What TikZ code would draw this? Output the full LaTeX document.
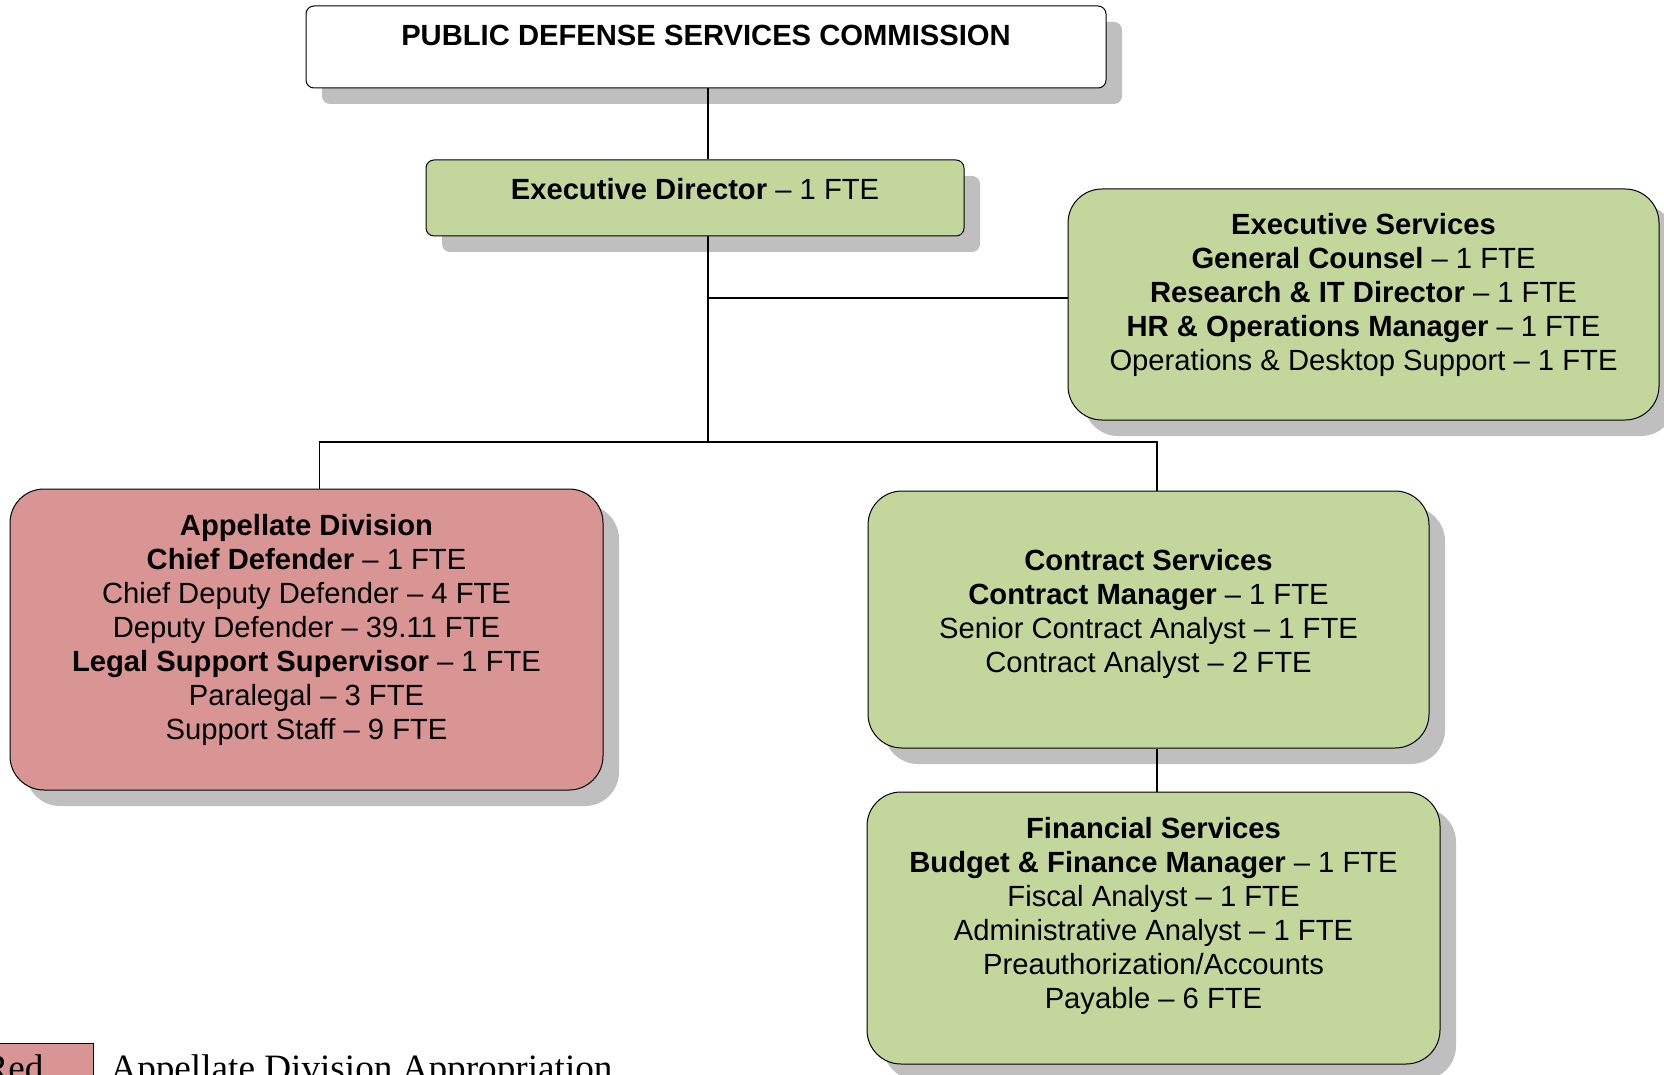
\documentclass[tikz,border=0pt]{standalone}
\usepackage{fontspec}
\setmainfont{Liberation Sans}
\newfontfamily\legendfont{Liberation Serif}
\usetikzlibrary{shadows}

\definecolor{boxgreen}{HTML}{C3D69B}
\definecolor{boxred}{HTML}{D99594}
\definecolor{shadowgray}{HTML}{BFBFBF}

\begin{document}
\begin{tikzpicture}[
    x=0.5pt,
    y=-0.5pt,
    box/.style={
        rectangle,
        draw,
        line width=0.5pt,
        align=center,
        inner sep=0pt,
        font=\fontsize{14.6}{17}\selectfont,
        drop shadow={shadow xshift=8pt, shadow yshift=-8pt, fill=shadowgray, opacity=1}
    },
    headbox/.style={
        box,
        fill=white,
        rounded corners=4pt
    },
    smallbox/.style={
        box,
        fill=boxgreen,
        rounded corners=4pt
    },
    unitbox/.style={
        box,
        fill=boxgreen,
        rounded corners=17pt
    },
    appelbox/.style={
        unitbox,
        fill=boxred
    },
    legendbox/.style={
        rectangle,
        draw,
        line width=0.6pt,
        fill=boxred,
        font=\legendfont\fontsize{18.6}{20}\selectfont
    },
    legendtext/.style={
        inner sep=0pt,
        font=\legendfont\fontsize{18.6}{20}\selectfont
    },
    line/.style={
        draw,
        line width=0.6pt
    }
]

% Boxes
\useasboundingbox (0,0) rectangle (1664,1075);
\node [headbox, minimum width=400pt, minimum height=41pt, text depth=11.6pt] (pdsc) at (706,47)
    {\textbf{PUBLIC DEFENSE SERVICES COMMISSION}};
\node [smallbox, minimum width=269pt, minimum height=38pt, text depth=8.6pt] (exdir) at (695,198)
    {\textbf{Executive Director} -- 1 FTE};
\node [unitbox, minimum width=295.5pt, minimum height=115.5pt, text depth=12.6pt] (exsvc) at (1363.5,304.5)
    {\textbf{Executive Services}\\
     \textbf{General Counsel} -- 1 FTE\\
     \textbf{Research \& IT Director} -- 1 FTE\\
     \textbf{HR \& Operations Manager} -- 1 FTE\\
     Operations \& Desktop Support -- 1 FTE};
\node [appelbox, minimum width=296.5pt, minimum height=150.5pt, text depth=12.6pt] (appel) at (306.5,639.5)
    {\textbf{Appellate Division}\\
     \textbf{Chief Defender} -- 1 FTE\\
     Chief Deputy Defender -- 4 FTE\\
     Deputy Defender -- 39.11 FTE\\
     \textbf{Legal Support Supervisor} -- 1 FTE\\
     Paralegal -- 3 FTE\\
     Support Staff -- 9 FTE};
\node [unitbox, minimum width=280.5pt, minimum height=128.5pt, text depth=8.6pt] (contract) at (1148.5,619.5)
    {\textbf{Contract Services}\\
     \textbf{Contract Manager} -- 1 FTE\\
     Senior Contract Analyst -- 1 FTE\\
     Contract Analyst -- 2 FTE};
\node [unitbox, minimum width=286.5pt, minimum height=136pt, text depth=15.1pt] (finance) at (1153.5,928)
    {\textbf{Financial Services}\\
     \textbf{Budget \& Finance Manager} -- 1 FTE\\
     Fiscal Analyst -- 1 FTE\\
     Administrative Analyst -- 1 FTE\\
     Preauthorization/Accounts\\
     Payable -- 6 FTE};

% Legend
\node [legendbox, anchor=north west, inner xsep=11.5pt, inner ysep=2pt, text width=43.5pt,
       text height=16.5pt, text depth=20pt, align=left] (legend) at (-40,1043) {Red};
\node [legendtext, anchor=base west] (legendnote) at (110,1080) {Appellate Division Appropriation};

% Edges
\coordinate (hub) at (708,442);
\path [line] (pdsc.south -| hub) -- (exdir.north -| hub);
\path [line] (exdir.south -| hub) -- (hub);
\path [line] (hub |- exsvc.west) ++(0,-6.5) coordinate (tap) -- (tap -| exsvc.west);
\path [line] (hub) -| ([xshift=6.5pt]appel.north);
\path [line] (hub) -| ([xshift=4.25pt]contract.north);
\path [line] ([xshift=4.25pt]contract.south) -- ([xshift=4.25pt]contract.south |- finance.north);

\end{tikzpicture}
\end{document}
